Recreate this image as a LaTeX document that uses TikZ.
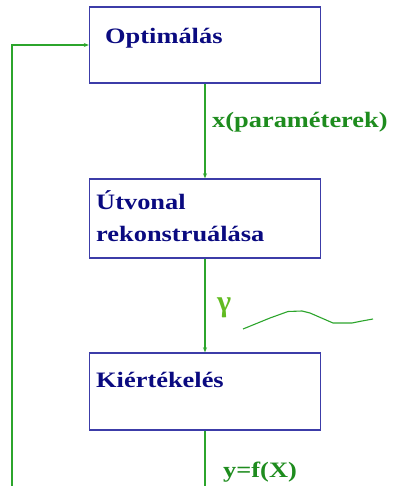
\documentclass[tikz,border=0pt]{standalone}
\usepackage{fontspec}
\setmainfont{Liberation Serif}
\usetikzlibrary{arrows.meta}
\definecolor{boxblue}{HTML}{3C3CA8}
\definecolor{navy}{HTML}{0A0A80}
\definecolor{lgreen}{HTML}{2CA52C}
\definecolor{tgreen}{HTML}{1E8C1E}
\tikzset{
  stagebox/.style={draw=boxblue, line width=1.4pt, minimum width=231pt, minimum height=#1, inner sep=0pt},
  boxtext/.style={text=navy, font=\fontsize{22}{26}\selectfont\bfseries, anchor=base west, inner sep=0pt},
  sigtext/.style={text=tgreen, font=\fontsize{22}{26}\selectfont\bfseries, anchor=base west, inner sep=0pt},
  flow/.style={draw=lgreen, line width=1.1pt, -{Stealth[length=5pt,width=4pt]}},
  flowline/.style={draw=lgreen, line width=1.1pt},
}
\begin{document}
\begin{tikzpicture}[x=1pt,y=-1pt]
\useasboundingbox (0,0) rectangle (392,486);
\node[stagebox=76pt] (b1) at (205,45) {};
\node[stagebox=79pt] (b2) at (205,218.5) {};
\node[stagebox=77pt] (b3) at (205,391.5) {};
\node[boxtext] (t1) at (105,44) {\scalebox{1.2}[1]{Optimálás}};
\node[boxtext] (t2a) at (96,209) {\scalebox{1.2}[1]{Útvonal}};
\node[boxtext] (t2b) at (96,241) {\scalebox{1.2}[1]{rekonstruálása}};
\node[boxtext] (t3) at (96,387) {\scalebox{1.2}[1]{Kiértékelés}};
\node[sigtext] (lx) at (212,128) {\scalebox{1.2}[1]{x(paraméterek)}};
\node[sigtext, text=lgreen!75!yellow, font=\fontsize{30}{34}\selectfont\bfseries] (lg) at (217,311) {γ};
\node[sigtext] (ly) at (223,477) {\scalebox{1.2}[1]{y=f(X)}};
\coordinate (bot) at (205,487);
\coordinate (botl) at (12,487);
\coordinate (topl) at (12,45);
\draw[flow] (b1.south) -- (b2.north);
\draw[flow] (b2.south) -- (b3.north);
\draw[flowline] (b3.south) -- (bot);
\draw[flow] (botl) -- (topl) -- (b1.west);
\draw[flowline, line join=round] (243,329) -- (270,318) -- (288,311.5) -- (302,311) -- (310,313) -- (333,323) -- (352,323) -- (362,321) -- (373,319);
\end{tikzpicture}
\end{document}
